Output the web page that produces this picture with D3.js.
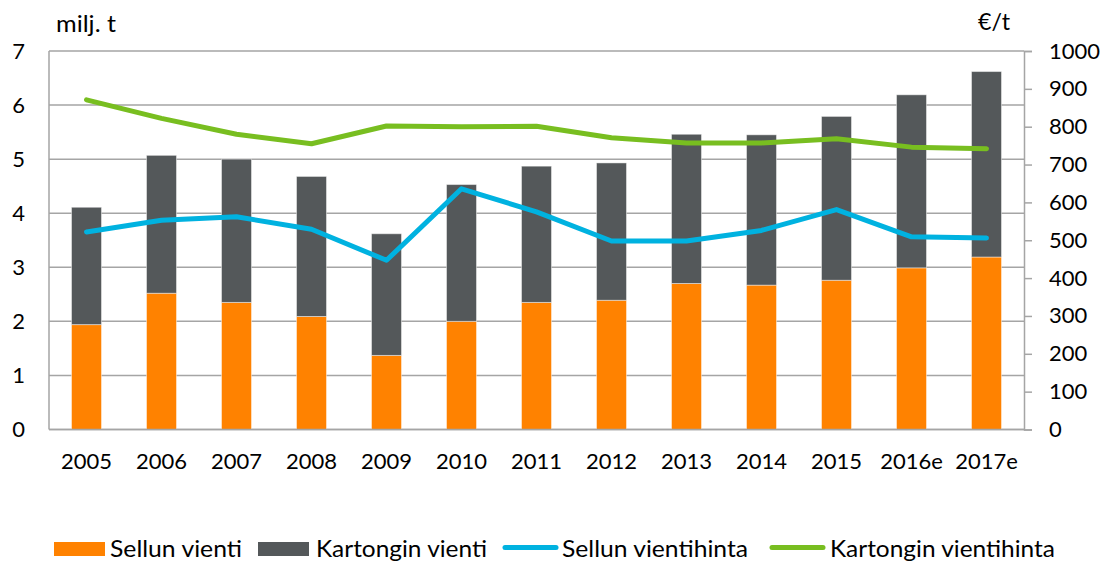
<!DOCTYPE html>
<html>
<head>
<meta charset="utf-8">
<script src="https://cdn.jsdelivr.net/npm/d3@7"></script>
<style>
  html, body { margin: 0; padding: 0; background: #fff; }
  svg { display: block; font-family: Lato, "Open Sans", sans-serif; }
</style>
</head>
<body>
<svg id="chart" width="1107" height="563"></svg>
<script>
const years = ["2005","2006","2007","2008","2009","2010","2011","2012","2013","2014","2015","2016e","2017e"];
const sellunVienti = [1.94, 2.52, 2.35, 2.09, 1.37, 2.00, 2.35, 2.39, 2.70, 2.67, 2.76, 2.99, 3.19];
const kartonginVienti = [2.17, 2.55, 2.65, 2.59, 2.25, 2.53, 2.52, 2.54, 2.76, 2.78, 3.03, 3.20, 3.43];
const sellunHinta = [522, 553, 562, 529, 447, 636, 575, 498, 498, 526, 581, 509, 506];
const kartonginHinta = [871, 822, 780, 755, 802, 800, 801, 771, 757, 757, 768, 746, 742];
const leftTicks = [0, 1, 2, 3, 4, 5, 6, 7];
const rightTicks = [0, 100, 200, 300, 400, 500, 600, 700, 800, 900, 1000];
const seriesNames = ["Sellun vienti", "Kartongin vienti", "Sellun vientihinta", "Kartongin vientihinta"];
const colors = { orange: "#ff8200", gray: "#54585a", blue: "#00b2e0", green: "#78be20", grid: "#a5a5a5" };

const svg = d3.select("#chart");
const L = 49, R = 1024, T = 51, B = 429.5;

const x = d3.scaleBand().domain(years).range([L, R]).paddingInner(0.6).paddingOuter(0.3);
const yL = d3.scaleLinear().domain([0, 7]).range([B, T]);
const yR = d3.scaleLinear().domain([0, 1000]).range([B, T]);

// gridlines
svg.append("g").selectAll("line").data(leftTicks).join("line")
  .attr("x1", L).attr("x2", R)
  .attr("y1", d => yL(d)).attr("y2", d => yL(d))
  .attr("stroke", colors.grid).attr("stroke-width", 1.5);

// left axis line
svg.append("line").attr("x1", L).attr("x2", L).attr("y1", T).attr("y2", B)
  .attr("stroke", colors.grid).attr("stroke-width", 1.5);

// bars
const stackData = years.map((y, i) => ({ year: y, s: sellunVienti[i], k: kartonginVienti[i] }));
const stack = d3.stack().keys(["s", "k"])(stackData);
const barColors = [colors.orange, colors.gray];
svg.append("g").selectAll("g").data(stack).join("g")
  .attr("fill", (d, i) => barColors[i])
  .selectAll("rect").data(d => d).join("rect")
  .attr("x", d => x(d.data.year))
  .attr("width", x.bandwidth())
  .attr("y", d => yL(d[1]))
  .attr("height", d => yL(d[0]) - yL(d[1]))
  .attr("stroke", "rgba(255,255,255,0.45)").attr("stroke-width", 1);

// bottom axis line (redraw on top)
svg.append("line").attr("x1", L).attr("x2", R).attr("y1", B).attr("y2", B)
  .attr("stroke", colors.grid).attr("stroke-width", 1.5);

// right axis
const rAxis = svg.append("g").attr("transform", `translate(${R},0)`)
  .call(d3.axisRight(yR).tickValues(rightTicks).tickSize(8).tickPadding(17).tickFormat(d3.format("d")));
rAxis.select(".domain").attr("stroke", colors.grid).attr("stroke-width", 1.5);
rAxis.selectAll(".tick line").attr("stroke", colors.grid).attr("stroke-width", 1.5);
rAxis.selectAll("text").attr("font-size", 22).attr("fill", "#000").attr("font-family", "Lato");

// left tick labels
const lAxis = svg.append("g").attr("transform", `translate(${L},0)`)
  .call(d3.axisLeft(yL).tickValues(leftTicks).tickSize(0).tickPadding(24).tickFormat(d3.format("d")));
lAxis.select(".domain").remove();
lAxis.selectAll("text").attr("font-size", 22).attr("fill", "#000").attr("font-family", "Lato");

// bottom labels
const xAxis = svg.append("g").attr("transform", `translate(0,${B})`)
  .call(d3.axisBottom(x).tickSize(0).tickPadding(24));
xAxis.select(".domain").remove();
xAxis.selectAll("text").attr("font-size", 22).attr("fill", "#000").attr("font-family", "Lato");

// lines
const cx = d => x(d) + x.bandwidth() / 2;
const lineGen = (arr) => d3.line().x((d, i) => cx(years[i])).y(d => yR(d))(arr);
svg.append("path").attr("d", lineGen(kartonginHinta)).attr("fill", "none")
  .attr("stroke", colors.green).attr("stroke-width", 5).attr("stroke-linecap", "round").attr("stroke-linejoin", "round");
svg.append("path").attr("d", lineGen(sellunHinta)).attr("fill", "none")
  .attr("stroke", colors.blue).attr("stroke-width", 5).attr("stroke-linecap", "round").attr("stroke-linejoin", "round");

// unit labels
svg.append("text").attr("x", 56).attr("y", 32).attr("font-size", 24)
  .attr("textLength", 60).attr("lengthAdjust", "spacingAndGlyphs").text("milj. t");
svg.append("text").attr("x", 978).attr("y", 30).attr("font-size", 24)
  .attr("textLength", 32).attr("lengthAdjust", "spacingAndGlyphs").text("€/t");

// legend
const legend = svg.append("g").attr("font-size", 24);
const legItems = [
  { name: seriesNames[0], type: "rect", color: colors.orange, x: 54, tx: 110, tw: 132 },
  { name: seriesNames[1], type: "rect", color: colors.gray, x: 258, tx: 316, tw: 171 },
  { name: seriesNames[2], type: "line", color: colors.blue, x: 503, tx: 562, tw: 186 },
  { name: seriesNames[3], type: "line", color: colors.green, x: 770, tx: 830, tw: 225 }
];
const ly = 548;
legItems.forEach(it => {
  if (it.type === "rect") {
    legend.append("rect").attr("x", it.x).attr("y", ly - 6).attr("width", 51).attr("height", 14).attr("fill", it.color);
  } else {
    legend.append("line").attr("x1", it.x + 2).attr("x2", it.x + 53).attr("y1", ly - 0.5).attr("y2", ly - 0.5)
      .attr("stroke", it.color).attr("stroke-width", 5).attr("stroke-linecap", "round");
  }
  legend.append("text").attr("x", it.tx).attr("y", ly + 8.5)
    .attr("textLength", it.tw).attr("lengthAdjust", "spacingAndGlyphs").text(it.name);
});
</script>
</body>
</html>
